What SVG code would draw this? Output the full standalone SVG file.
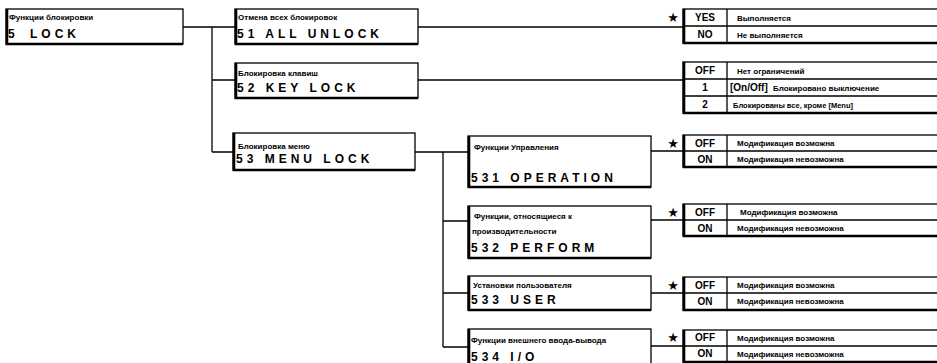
<svg xmlns="http://www.w3.org/2000/svg" width="937" height="363" viewBox="0 0 937 363">
<style>
.bx{fill:#fff;stroke:#000;stroke-width:1.3}
.ed{stroke:#000;stroke-width:2.6;fill:none}
.cn{stroke:#000;stroke-width:1.3;fill:none}
.lb{font-family:"Liberation Sans",Arial,sans-serif;font-size:8px;font-weight:bold;fill:#000}
.cd{font-family:"Liberation Sans",Arial,sans-serif;font-size:12px;font-weight:bold;letter-spacing:4px;fill:#000}
.k{font-family:"Liberation Sans",Arial,sans-serif;font-size:10px;font-weight:bold;fill:#000;text-anchor:middle}
.st{font-family:"DejaVu Sans",sans-serif;font-size:13px;fill:#000;text-anchor:middle}
</style>
<rect width="937" height="363" fill="#fff"/>
<g id="connectors">
<path class="cn" d="M183 27H235M212 27V152M212 80H235M212 152H233"/>
<path class="cn" d="M418 27H683M418 80H683"/>
<path class="cn" d="M415 152H468M443 152V347M443 221H468M443 293H468M443 347H468"/>
<path class="cn" d="M651 151H683M651 220H683M651 293H683M651 346H683"/>
</g>
<g id="n5">
<rect class="bx" x="6" y="9" width="177" height="35"/>
<path class="ed" d="M7 9V44H183"/>
<text class="lb" x="9" y="20">Функции блокировки</text>
<text class="cd" x="8" y="38">5</text><text class="cd" x="30" y="38">LOCK</text>
</g>
<g id="n51">
<rect class="bx" x="235" y="9" width="183" height="35"/>
<path class="ed" d="M236 9V44H418"/>
<text class="lb" x="238" y="20">Отмена всех блокировок</text>
<text class="cd" x="237" y="38">51 ALL UNLOCK</text>
</g>
<g id="n52">
<rect class="bx" x="235" y="63" width="183" height="35"/>
<path class="ed" d="M236 63V98H418"/>
<text class="lb" x="238" y="76">Блокировка клавиш</text>
<text class="cd" x="237" y="92">52 KEY LOCK</text>
</g>
<g id="n53">
<rect class="bx" x="233" y="133" width="182" height="37"/>
<path class="ed" d="M234 133V170H415"/>
<text class="lb" x="238" y="149">Блокировка меню</text>
<text class="cd" x="236" y="163">53 MENU LOCK</text>
</g>
<g id="n531">
<rect class="bx" x="468" y="136" width="183" height="51"/>
<path class="ed" d="M469 136V187H651"/>
<text class="lb" x="474" y="150">Функции Управления</text>
<text class="cd" x="471" y="182">531 OPERATION</text>
</g>
<g id="n532">
<rect class="bx" x="468" y="206" width="183" height="52"/>
<path class="ed" d="M469 206V258H651"/>
<text class="lb" x="474" y="219">Функции, относящиеся к</text>
<text class="lb" x="472" y="234">производительности</text>
<text class="cd" x="471" y="252">532 PERFORM</text>
</g>
<g id="n533">
<rect class="bx" x="468" y="276" width="183" height="34"/>
<path class="ed" d="M469 276V310H651"/>
<text class="lb" x="473" y="288">Установки пользователя</text>
<text class="cd" x="471" y="304">533 USER</text>
</g>
<g id="n534">
<rect class="bx" x="468" y="329" width="183" height="40"/>
<path class="ed" d="M469 329V369"/>
<text class="lb" x="471" y="343">Функции внешнего ввода-вывода</text>
<text class="cd" x="471" y="361">534 I/O</text>
</g>
<g id="t51">
<text class="st" x="673" y="22">★</text>
<rect class="bx" x="683" y="9" width="260" height="34"/>
<path class="ed" d="M684 9V43H937"/>
<path class="cn" d="M683 26H937M727 9V43"/>
<text class="k" x="705" y="21">YES</text><text class="lb" x="737" y="21">Выполняется</text>
<text class="k" x="705" y="38">NO</text><text class="lb" x="737" y="38">Не выполняется</text>
</g>
<g id="t52">
<rect class="bx" x="683" y="62" width="260" height="51"/>
<path class="ed" d="M684 62V113H937"/>
<path class="cn" d="M683 79H937M683 96H937M727 62V113"/>
<text class="k" x="705" y="74">OFF</text><text class="lb" x="737" y="74">Нет ограничений</text>
<text class="k" x="705" y="91">1</text><text x="730" y="91" style="font-family:'Liberation Sans',sans-serif;font-size:10px;font-weight:bold">[On/Off]</text><text class="lb" x="773" y="91">Блокировано выключение</text>
<text class="k" x="705" y="108">2</text><text class="lb" x="733" y="108" style="font-size:7.5px">Блокированы все, кроме [Menu]</text>
</g>
<g id="t531">
<text class="st" x="673" y="148">★</text>
<rect class="bx" x="683" y="135" width="260" height="32"/>
<path class="ed" d="M684 135V167H937"/>
<path class="cn" d="M683 151H937M727 135V167"/>
<text class="k" x="705" y="147">OFF</text><text class="lb" x="737" y="146">Модификация возможна</text>
<text class="k" x="705" y="163">ON</text><text class="lb" x="737" y="162">Модификация невозможна</text>
</g>
<g id="t532">
<text class="st" x="673" y="217">★</text>
<rect class="bx" x="683" y="204" width="260" height="32"/>
<path class="ed" d="M684 204V236H937"/>
<path class="cn" d="M683 220H937M727 204V236"/>
<text class="k" x="705" y="216">OFF</text><text class="lb" x="740" y="215">Модификация возможна</text>
<text class="k" x="705" y="232">ON</text><text class="lb" x="737" y="231">Модификация невозможна</text>
</g>
<g id="t533">
<text class="st" x="673" y="290">★</text>
<rect class="bx" x="683" y="277" width="260" height="33"/>
<path class="ed" d="M684 277V310H937"/>
<path class="cn" d="M683 293H937M727 277V310"/>
<text class="k" x="705" y="289">OFF</text><text class="lb" x="737" y="288">Модификация возможна</text>
<text class="k" x="705" y="305">ON</text><text class="lb" x="737" y="304">Модификация невозможна</text>
</g>
<g id="t534">
<text class="st" x="673" y="342">★</text>
<rect class="bx" x="683" y="330" width="260" height="32"/>
<path class="ed" d="M684 330V362H937"/>
<path class="cn" d="M683 346H937M727 330V362"/>
<text class="k" x="705" y="341">OFF</text><text class="lb" x="737" y="341">Модификация возможна</text>
<text class="k" x="705" y="357">ON</text><text class="lb" x="737" y="357">Модификация невозможна</text>
</g>
</svg>
